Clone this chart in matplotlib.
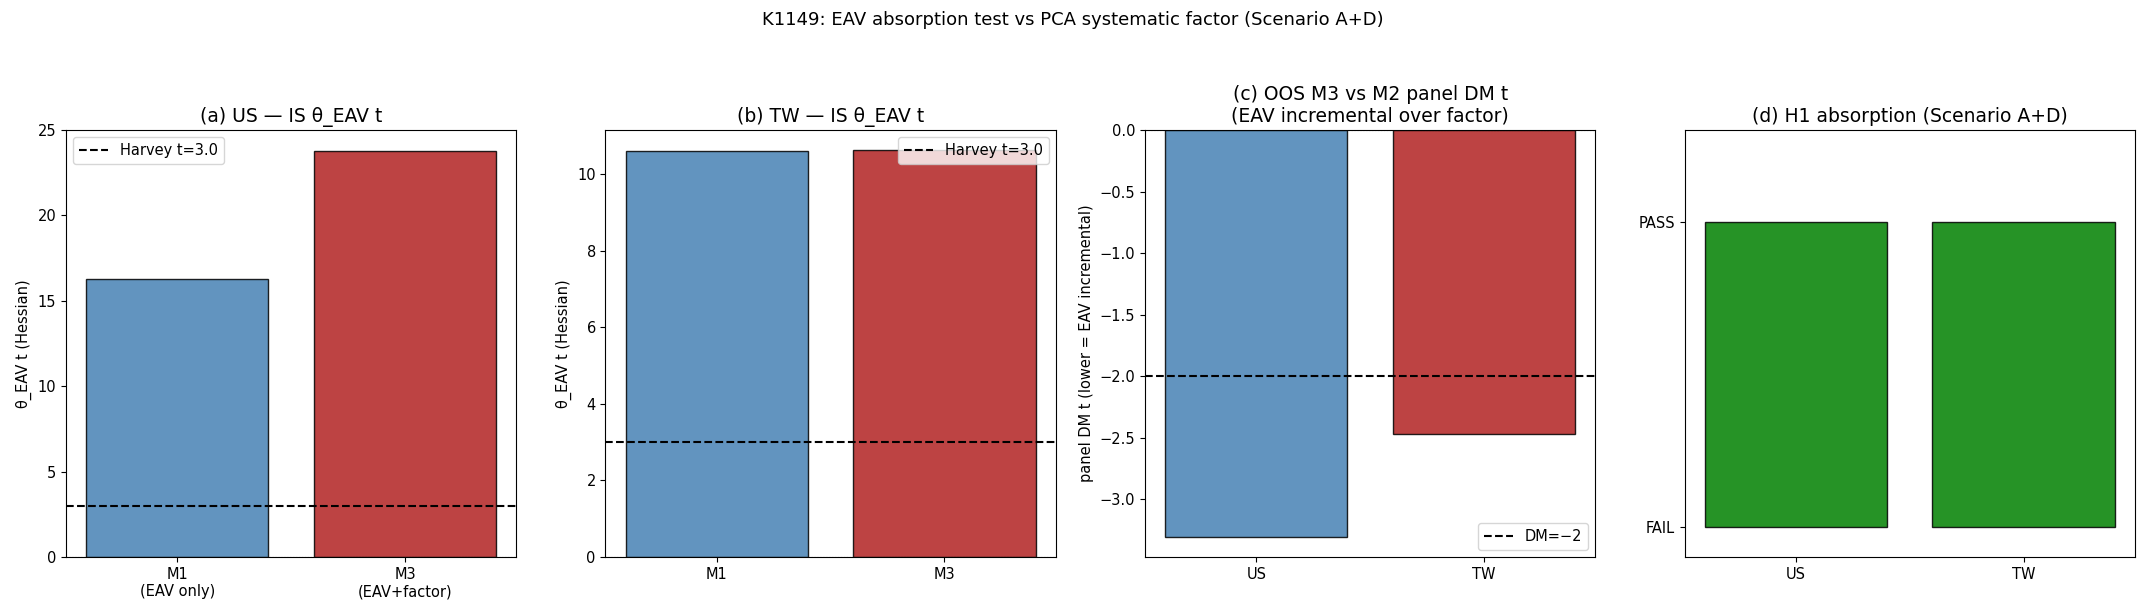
import matplotlib
matplotlib.use("Agg")
import matplotlib.pyplot as plt

plt.rcParams['font.family'] = ['DejaVu Sans']
plt.rcParams['axes.unicode_minus'] = True
plt.rcParams['xtick.labelsize'] = 10.5
plt.rcParams['ytick.labelsize'] = 10.5
plt.rcParams['axes.labelsize'] = 10.5
plt.rcParams['legend.fontsize'] = 10.5

# Data
models = ["M1\n(EAV only)", "M3\n(EAV+factor)"]
models_tw = ["M1", "M3"]
us_theta_t = [16.30, 23.79]
tw_theta_t = [10.60, 10.63]
markets = ["US", "TW"]
dm_t = [-3.306, -2.473]
h1_pass = [1, 1]
harvey_t = 3.0
dm_threshold = -2

colors = ["steelblue", "firebrick"]
title_fs = 13.5

fig, axes = plt.subplots(1, 4, figsize=(21.46, 6.15), dpi=100)
fig.subplots_adjust(left=0.03075, right=0.99487, top=0.7886, bottom=0.0943, wspace=0.1976)

# (a)
ax = axes[0]
ax.bar(models, us_theta_t, color=colors, alpha=0.85, edgecolor="black")
ax.axhline(harvey_t, color="k", ls="--", lw=1.5, label=f"Harvey t={harvey_t}")
ax.axhline(0, color="grey", lw=0.8, ls=":")
ax.set_ylim(0, 25)
ax.set_ylabel("θ_EAV t (Hessian)")
ax.set_title("(a) US — IS θ_EAV t", fontsize=title_fs)
ax.legend(loc="upper left")

# (b)
ax = axes[1]
ax.bar(models_tw, tw_theta_t, color=colors, alpha=0.85, edgecolor="black")
ax.axhline(harvey_t, color="k", ls="--", lw=1.5, label=f"Harvey t={harvey_t}")
ax.axhline(0, color="grey", lw=0.8, ls=":")
ax.set_ylabel("θ_EAV t (Hessian)")
ax.set_title("(b) TW — IS θ_EAV t", fontsize=title_fs)
ax.legend(loc="upper right")

# (c)
ax = axes[2]
ax.bar(markets, dm_t, color=colors, alpha=0.85, edgecolor="black")
ax.axhline(dm_threshold, color="k", ls="--", lw=1.5, label=f"DM={dm_threshold}".replace("-", "−"))
ax.axhline(0, color="grey", lw=0.8, ls=":")
ax.set_ylabel("panel DM t (lower = EAV incremental)")
ax.set_title("(c) OOS M3 vs M2 panel DM t\n(EAV incremental over factor)", fontsize=title_fs)
ax.legend(loc="lower right")

# (d)
ax = axes[3]
ax.bar(markets, h1_pass, color="green", alpha=0.85, edgecolor="black")
ax.set_yticks([0, 1])
ax.set_yticklabels(["FAIL", "PASS"])
ax.set_ylim(-0.1, 1.3)
ax.set_title("(d) H1 absorption (Scenario A+D)", fontsize=title_fs)

fig.suptitle("K1149: EAV absorption test vs PCA systematic factor (Scenario A+D)", fontsize=13, y=0.968, va="center")

fig.savefig("out.png", dpi=100)
